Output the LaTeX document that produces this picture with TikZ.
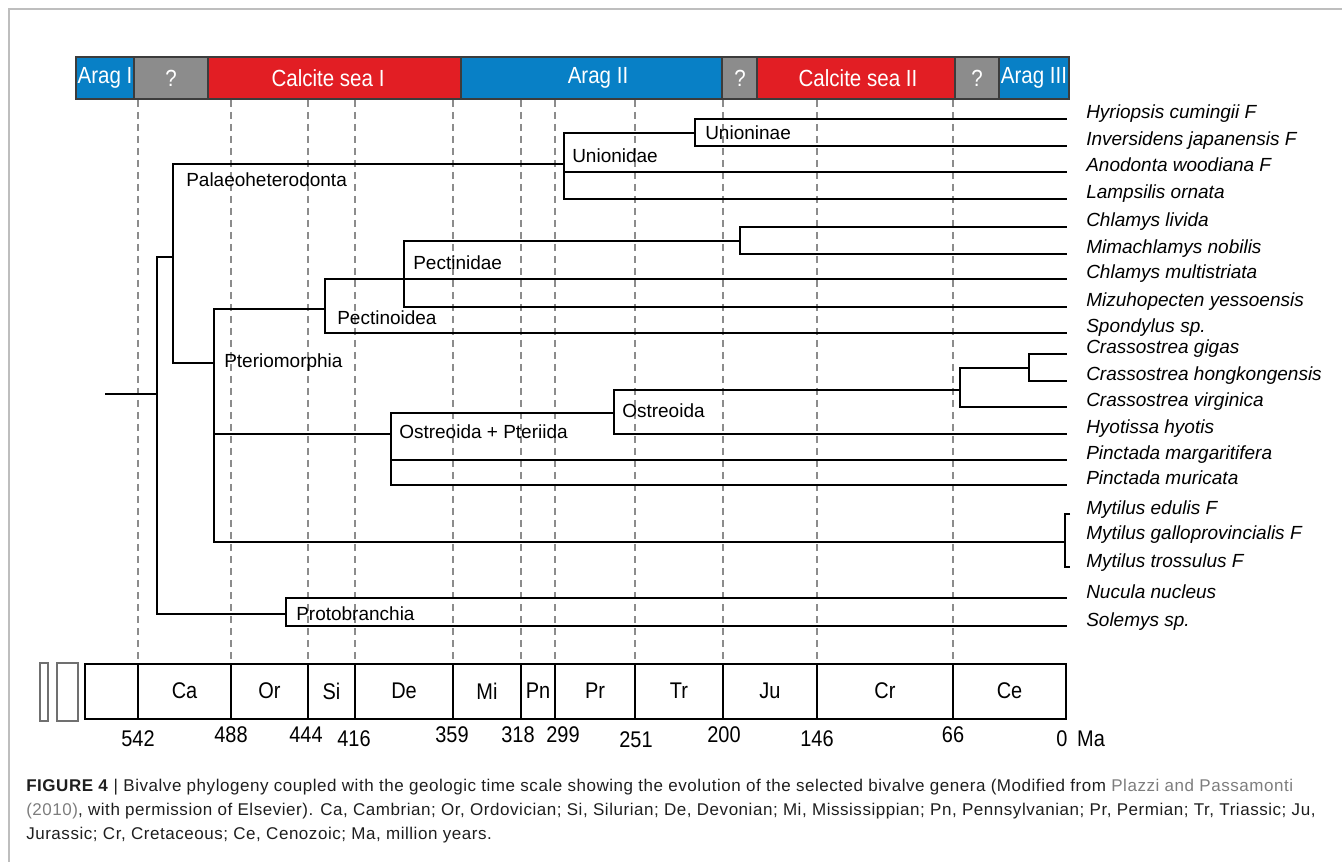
\documentclass[tikz,border=0pt]{standalone}
\usepackage{fontspec}
\setmainfont{Liberation Sans}
\newfontfamily\narrowfont[FakeStretch=0.88]{Liberation Sans}
\newfontfamily\capfont[LetterSpace=3.2]{Liberation Sans}
\usepackage{xcolor}
\usepackage{tikz}
\definecolor{aragblue}{RGB}{8,128,198}
\definecolor{calcred}{RGB}{226,30,36}
\definecolor{unkgray}{RGB}{140,140,140}
\definecolor{barline}{RGB}{60,60,60}
\definecolor{framegray}{RGB}{190,190,190}
\definecolor{refgray}{RGB}{125,125,125}
\definecolor{captext}{RGB}{30,30,30}

\begin{document}
\begin{tikzpicture}[x=0.75pt,y=-0.75pt,
    branch/.style={line width=2.2pt},
    epoch/.style={gray!90,line width=0.9pt,dash pattern=on 5.5pt off 3.5pt},
    seabox/.style={draw=barline,line width=1.1pt},
    seatext/.style={text=white,inner sep=0pt,font=\narrowfont\fontsize{17.5}{20}\selectfont},
    cell/.style={draw=black,line width=1.1pt},
    periodtext/.style={inner sep=0pt,font=\narrowfont\fontsize{17}{20}\selectfont},
    agetext/.style={inner sep=0pt,anchor=base,font=\narrowfont\fontsize{17}{20}\selectfont},
    clade/.style={anchor=base west,inner sep=0pt,font=\fontsize{14.25}{16}\selectfont},
    taxon/.style={anchor=base west,inner sep=0pt,font=\itshape\fontsize{14.25}{16}\selectfont},
    caption/.style={anchor=base west,inner sep=0pt,text=captext,font=\capfont\fontsize{12.75}{15}\selectfont}]
    \useasboundingbox (0,0) rectangle (1342,862);
    \draw[framegray,line width=1.4pt] (9,862) -- (9,9) -- (1342,9);
    % seawater chemistry
    \foreach \xa/\xb/\col/\txt/\xt in {76/134/aragblue/Arag I/105, 134/208/unkgray/?/171,
        208/461/calcred/Calcite sea I/328, 461/722/aragblue/Arag II/598, 722/757/unkgray/?/740,
        757/955/calcred/Calcite sea II/858, 955/999/unkgray/?/977, 999/1069/aragblue/Arag III/1034}
      {\draw[seabox,fill=\col] (\xa,57) rectangle (\xb,99);
       \node[seatext] (sea\xa) at (\xt,78) {\txt};}
    \draw[barline,line width=1.8pt] (76,57) rectangle (1069,99);
    \foreach \x in {138,231,308,355,453,521,555,635,723,817,953} \draw[epoch] (\x,100) -- (\x,663);
    % time scale
    \draw[unkgray!80!black,line width=1.6pt] (40,663) rectangle (48,721);
    \draw[unkgray!80!black,line width=1.6pt] (57,663) rectangle (78,721);
    \foreach \xa/\xb/\txt in {85/138/, 138/231/Ca, 231/308/Or, 308/355/Si, 355/453/De, 453/521/Mi,
        521/555/Pn, 555/635/Pr, 635/723/Tr, 723/817/Ju, 817/953/Cr, 953/1066/Ce}
      {\draw[cell] (\xa,664) rectangle (\xb,719);
       \node[periodtext] (per\xa) at ({(\xa+\xb)/2},691) {\txt};}
    \foreach \x/\y/\v in {138/746/542, 231/742/488, 306/742/444, 354/746/416, 452/742/359, 518/742/318,
        563/742/299, 636/747/251, 724/742/200, 817/746/146, 953/742/66, 1062/746/0}
      \node[agetext] (age\v) at (\x,\y) {\v};
    \node[agetext] (ma) at (1091,746) {Ma};
    % tree
    \coordinate (stub) at (105,394);
    \coordinate (root) at (157,394);
    \coordinate (autob) at (173,257);
    \coordinate (palaeo) at (564,164);
    \coordinate (unioninae) at (695,133);
    \coordinate (pterio) at (214,363);
    \coordinate (pectinoid) at (325,309);
    \coordinate (pectinid) at (404,279);
    \coordinate (chlamys) at (740,241);
    \coordinate (ostpter) at (391,434);
    \coordinate (ostreoid) at (614,413);
    \coordinate (crass) at (960,390);
    \coordinate (gigho) at (1029,368);
    \coordinate (mytilus) at (1065,542);
    \coordinate (myta) at (1070,514);
    \coordinate (mytc) at (1070,567);
    \coordinate (proto) at (286,614);
    \foreach \n/\y/\txt in {hyr/119/Hyriopsis cumingii F, inv/146/Inversidens japanensis F,
        ano/172/Anodonta woodiana F, lam/199/Lampsilis ornata, liv/227/Chlamys livida,
        nob/254/Mimachlamys nobilis, mul/279/Chlamys multistriata, miz/307/Mizuhopecten yessoensis,
        spo/333/Spondylus sp., gig/354/Crassostrea gigas, hon/381/Crassostrea hongkongensis,
        vir/407/Crassostrea virginica, hyo/434/Hyotissa hyotis, mar/460/Pinctada margaritifera,
        mur/485/Pinctada muricata, nuc/598/Nucula nucleus, sol/626/Solemys sp.}
      {\coordinate (\n) at (1067,\y);
       \node[taxon] (t\n) at (1086,\y) {\txt};}
    \node[taxon] (tedu) at (1086,514) {Mytilus edulis F};
    \node[taxon] (tgal) at (1086,540) {Mytilus galloprovincialis F};
    \node[taxon] (ttro) at (1086,567) {Mytilus trossulus F};
    \draw[branch] (stub) -- (root);
    \draw[branch] (root) |- (autob);
    \draw[branch] (root) |- (proto);
    \draw[branch] (autob) |- (palaeo);
    \draw[branch] (autob) |- (pterio);
    \draw[branch] (palaeo) |- (unioninae);
    \draw[branch] (palaeo) |- (ano);
    \draw[branch] (palaeo) |- (lam);
    \draw[branch] (unioninae) |- (hyr);
    \draw[branch] (unioninae) |- (inv);
    \draw[branch] (pterio) |- (pectinoid);
    \draw[branch] (pterio) |- (ostpter);
    \draw[branch] (pterio) |- (mytilus);
    \draw[branch] (pectinoid) |- (pectinid);
    \draw[branch] (pectinoid) |- (spo);
    \draw[branch] (pectinid) |- (chlamys);
    \draw[branch] (pectinid) |- (mul);
    \draw[branch] (pectinid) |- (miz);
    \draw[branch] (chlamys) |- (liv);
    \draw[branch] (chlamys) |- (nob);
    \draw[branch] (ostpter) |- (ostreoid);
    \draw[branch] (ostpter) |- (mar);
    \draw[branch] (ostpter) |- (mur);
    \draw[branch] (ostreoid) |- (crass);
    \draw[branch] (ostreoid) |- (hyo);
    \draw[branch] (crass) |- (gigho);
    \draw[branch] (crass) |- (vir);
    \draw[branch] (gigho) |- (gig);
    \draw[branch] (gigho) |- (hon);
    \draw[branch] (proto) |- (nuc);
    \draw[branch] (proto) |- (sol);
    \draw[branch,line width=1.6pt] (myta) -| (mytilus) |- (mytc);
    \node[clade] (lpalaeo) at (186,187) {Palaeoheterodonta};
    \node[clade] (lunionidae) at (572,163) {Unionidae};
    \node[clade] (lunioninae) at (705,140) {Unioninae};
    \node[clade] (lpectinidae) at (413,270) {Pectinidae};
    \node[clade] (lpectinoid) at (337,325) {Pectinoidea};
    \node[clade] (lpterio) at (224,368) {Pteriomorphia};
    \node[clade] (lostpter) at (399,439) {Ostreoida + Pteriida};
    \node[clade] (lostreoid) at (622,418) {Ostreoida};
    \node[clade] (lproto) at (296,620) {Protobranchia};
    % caption
    \node[caption] (cap1) at (26,791) {\textbf{FIGURE 4} | Bivalve phylogeny coupled with the geologic time scale showing the evolution of the selected bivalve genera (Modified from \textcolor{refgray}{Plazzi and Passamonti}};
    \node[caption] (cap2) at (26,815) {\textcolor{refgray}{(2010)}, with permission of Elsevier). Ca, Cambrian; Or, Ordovician; Si, Silurian; De, Devonian; Mi, Mississippian; Pn, Pennsylvanian; Pr, Permian; Tr, Triassic; Ju,};
    \node[caption] (cap3) at (26,839) {Jurassic; Cr, Cretaceous; Ce, Cenozoic; Ma, million years.};
  \end{tikzpicture}
\end{document}
